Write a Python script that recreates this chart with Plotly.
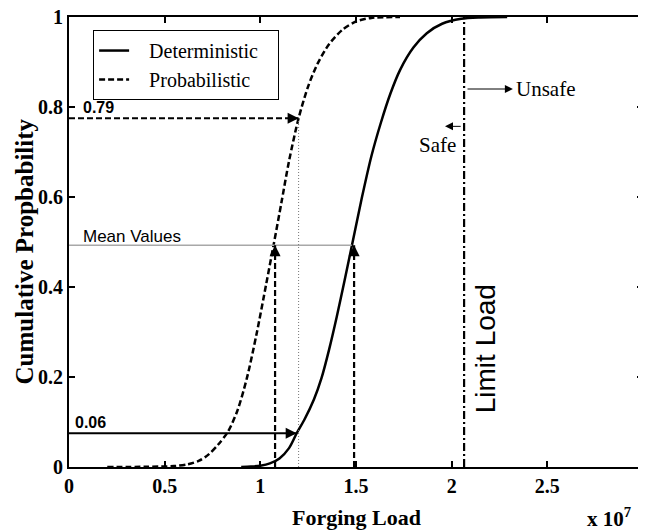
import plotly.graph_objects as go

# ---- data (x in units of 1e7) ----
det_x = [0.90, 0.95, 1.00, 1.05, 1.10, 1.15, 1.19, 1.23, 1.28, 1.32, 1.36, 1.40, 1.44,
         1.48, 1.53, 1.58, 1.63, 1.68, 1.73, 1.80, 1.87, 1.95, 2.05, 2.15, 2.29]
det_y = [0.0, 0.001, 0.003, 0.008, 0.019, 0.042, 0.075, 0.105, 0.150, 0.198, 0.262, 0.335, 0.414,
         0.495, 0.597, 0.690, 0.765, 0.830, 0.882, 0.932, 0.964, 0.985, 0.996, 0.999, 1.0]

prob_x = [0.20, 0.40, 0.55, 0.62, 0.68, 0.73, 0.78, 0.83, 0.88, 0.93, 0.98, 1.03, 1.07,
          1.11, 1.15, 1.20, 1.25, 1.30, 1.36, 1.43, 1.50, 1.58, 1.73]
prob_y = [0.0, 0.0005, 0.002, 0.006, 0.014, 0.028, 0.05, 0.078, 0.125, 0.198, 0.295, 0.405, 0.495,
          0.587, 0.680, 0.775, 0.846, 0.897, 0.940, 0.972, 0.990, 0.998, 1.0]

x_ticks = [0, 0.5, 1, 1.5, 2, 2.5, 3]
y_ticks = [0, 0.2, 0.4, 0.6, 0.8, 1]

limit_load = 2.065
mean_prob_x = 1.077
mean_det_x = 1.49
mean_level = 0.493
p79_x = 1.2
p79_level = 0.775
p06_x = 1.19
p06_level = 0.075
unsafe_level = 0.84
unsafe_end = 2.32
safe_level = 0.757
safe_end = 1.965

SERIF = "Liberation Serif"
SANS = "Liberation Sans"
NB = "\u00a0"

fig = go.Figure()

fig.add_trace(go.Scatter(x=det_x, y=det_y, mode="lines", name=NB * 3 + "Deterministic" + NB * 3,
                         line=dict(color="black", width=2.5, shape="spline", smoothing=0.8)))
fig.add_trace(go.Scatter(x=prob_x, y=prob_y, mode="lines", name=NB * 3 + "Probabilistic" + NB * 3,
                         line=dict(color="black", width=2.5, dash="6px,3px", shape="spline",
                                   smoothing=0.8)))

# limit load line
fig.add_trace(go.Scatter(x=[limit_load, limit_load], y=[0, 1], mode="lines", showlegend=False,
                         line=dict(color="black", width=2.2, dash="8px,3px,2px,3px")))
# mean values line
fig.add_trace(go.Scatter(x=[0, mean_det_x - 0.012], y=[mean_level, mean_level], mode="lines",
                         showlegend=False, line=dict(color="#a8a8a8", width=1.5)))
# dotted vertical
fig.add_trace(go.Scatter(x=[p79_x, p79_x], y=[0, p79_level], mode="lines", showlegend=False,
                         line=dict(color="#777777", width=1, dash="1px,2px")))
# 0.79 arrow shaft
fig.add_trace(go.Scatter(x=[0, p79_x], y=[p79_level, p79_level], mode="lines", showlegend=False,
                         line=dict(color="black", width=2, dash="6px,3px")))
# 0.06 arrow shaft
fig.add_trace(go.Scatter(x=[0, p06_x], y=[p06_level, p06_level], mode="lines", showlegend=False,
                         line=dict(color="black", width=2)))
# vertical mean arrows
for mx in (mean_prob_x, mean_det_x):
    fig.add_trace(go.Scatter(x=[mx, mx], y=[0, mean_level], mode="lines", showlegend=False,
                             line=dict(color="black", width=2.2, dash="6px,3px")))

annotations = []


def head(x, y, ax, ay, w=2, size=1.1):
    annotations.append(dict(x=x, y=y, ax=ax, ay=ay, xref="x", yref="y", axref="x", ayref="y",
                            text="", showarrow=True, arrowhead=2, arrowsize=size,
                            arrowwidth=w, arrowcolor="black"))


head(p79_x, p79_level, p79_x - 0.045, p79_level)
head(p06_x, p06_level, p06_x - 0.045, p06_level)
head(mean_prob_x, mean_level, mean_prob_x, mean_level - 0.02)
head(mean_det_x, mean_level, mean_det_x, mean_level - 0.02)
head(unsafe_end, unsafe_level, limit_load + 0.01, unsafe_level, w=1, size=1.6)
head(safe_end, safe_level, limit_load - 0.01, safe_level, w=1, size=1.6)

annotations += [
    dict(x=0.065, y=0.80, xref="x", yref="y", text="<b>0.79</b>", showarrow=False,
         xanchor="left", yanchor="middle", font=dict(family=SANS, size=16, color="black")),
    dict(x=0.02, y=0.10, xref="x", yref="y", text="<b>0.06</b>", showarrow=False,
         xanchor="left", yanchor="middle", font=dict(family=SANS, size=16, color="black")),
    dict(x=0.065, y=0.513, xref="x", yref="y", text="Mean Values", showarrow=False,
         xanchor="left", yanchor="middle", font=dict(family=SANS, size=17, color="black")),
    dict(x=unsafe_end + 0.005, y=unsafe_level, xref="x", yref="y", text="Unsafe", showarrow=False,
         xanchor="left", yanchor="middle", font=dict(family=SERIF, size=21, color="black")),
    dict(x=2.035, y=0.716, xref="x", yref="y", text="Safe", showarrow=False,
         xanchor="right", yanchor="middle", font=dict(family=SERIF, size=21, color="black")),
    dict(x=2.175, y=0.262, xref="x", yref="y", text="Limit Load", showarrow=False, textangle=-90,
         xanchor="center", yanchor="middle", font=dict(family=SANS, size=28, color="black")),
    dict(x=0.5, y=0, xref="paper", yref="paper", yshift=-50, text="<b>Forging Load</b>",
         showarrow=False, xanchor="center", yanchor="middle",
         font=dict(family=SERIF, size=22, color="black")),
    dict(x=0, y=0.479, xref="paper", yref="paper", xshift=-45, text="<b>Cumulative Propbability</b>",
         showarrow=False, textangle=-90, xanchor="center", yanchor="middle",
         font=dict(family=SERIF, size=25, color="black")),
    dict(x=0.94, y=0, xref="paper", yref="paper", yshift=-50, text="<b>x 10<sup>7</sup></b>",
         showarrow=False, xanchor="center", yanchor="middle",
         font=dict(family=SERIF, size=21, color="black")),
]

axis_common = dict(showgrid=False, zeroline=False, showline=True, linecolor="black", linewidth=2,
                   mirror="allticks", ticks="inside", ticklen=6, tickwidth=1.5, tickcolor="black",
                   automargin=False, ticklabeloverflow="allow",
                   tickfont=dict(family=SERIF, size=20, color="black", weight="bold"))

# page body has an 8px margin, so the figure is sized/margined to land the plot area
# where the reference has it
fig.update_layout(
    width=638, height=523,
    margin=dict(l=61, r=3, t=9, b=64),
    paper_bgcolor="white", plot_bgcolor="white",
    xaxis=dict(range=[0, 3], tickvals=x_ticks, ticktext=[f"{v:g}" for v in x_ticks], **axis_common),
    yaxis=dict(range=[0, 1], tickvals=y_ticks, ticktext=[f"{v:g}" for v in y_ticks], **axis_common),
    legend=dict(x=0.042, y=0.971, xanchor="left", yanchor="top", bgcolor="white",
                bordercolor="black", borderwidth=1, font=dict(family=SERIF, size=20, color="black"),
                tracegroupgap=0),
    annotations=annotations,
    showlegend=True,
)

fig.write_html("out.html")
